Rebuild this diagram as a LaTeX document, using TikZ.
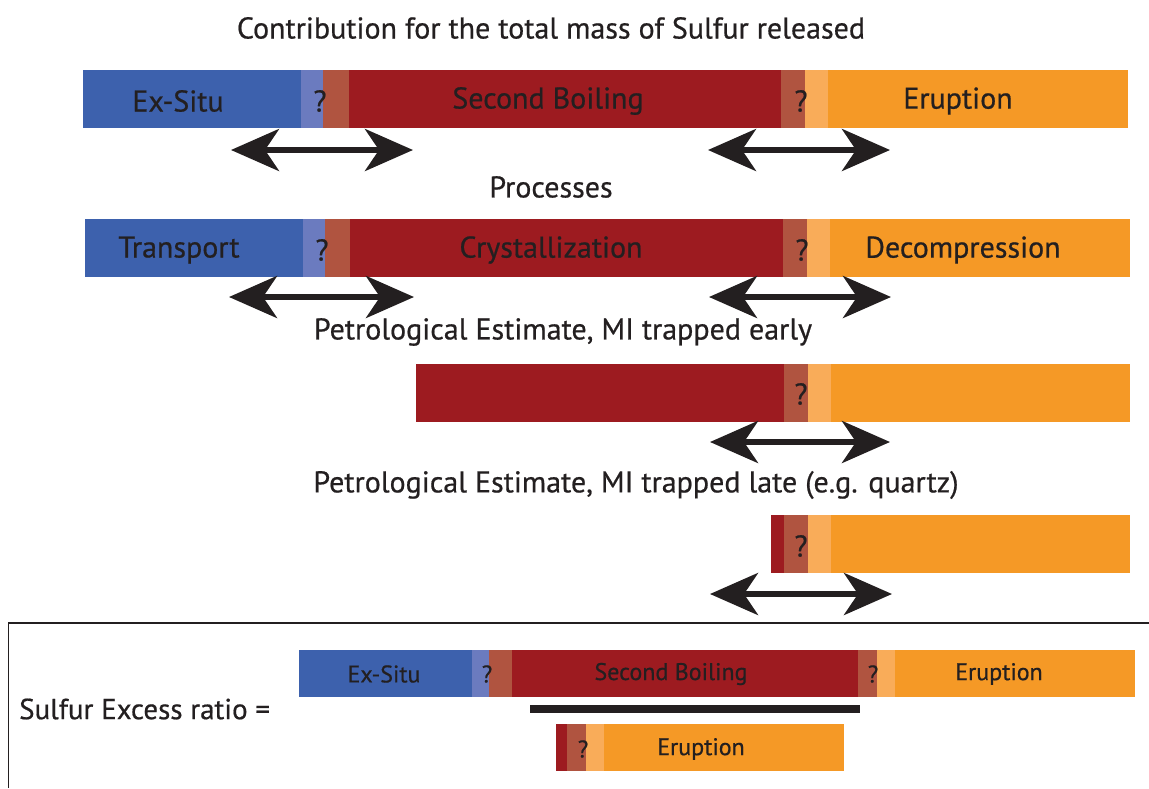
\documentclass[tikz,border=0pt]{standalone}
\usepackage{fontspec}
\setmainfont{PT Sans}[FakeBold=0.6]
\usetikzlibrary{positioning,arrows.meta}
\definecolor{ink}{HTML}{231F20}
\definecolor{exsitu}{HTML}{3D61AD}
\definecolor{exsituq}{HTML}{6B7BBF}
\definecolor{boilq}{HTML}{B05440}
\definecolor{boil}{HTML}{9D1B20}
\definecolor{erupq}{HTML}{F9AC59}
\definecolor{erup}{HTML}{F59926}

\begin{document}
\begin{tikzpicture}[x=1pt,y=-1pt]
\tikzstyle{seg}=[rectangle, inner sep=0pt, outer sep=0pt, minimum height=58pt]
\tikzstyle{segs}=[seg, minimum height=47pt]
\tikzstyle{lbl}=[text=ink, inner sep=0pt, font=\fontsize{30}{36}\selectfont]
\tikzstyle{lbls}=[lbl, font=\fontsize{24}{29}\selectfont]
\tikzstyle{head}=[text=ink, inner sep=0pt, font=\fontsize{30}{36}\selectfont]
\tikzstyle{dbl}=[draw=ink, line width=6pt,
	{Stealth[length=48pt,width=42pt,inset=14pt]}-{Stealth[length=48pt,width=42pt,inset=14pt]}]
\useasboundingbox (0,0) rectangle (1149,788);

% headings
\node[head] (title) at (551,28) {Contribution for the total mass of Sulfur released};
\node[head] (proc) at (551,187) {Processes};
\node[head] (early) at (563,332) {Petrological Estimate, MI trapped early};
\node[head] (late) at (636,485) {Petrological Estimate, MI trapped late (e.g. quartz)};

% total mass
\node[seg, anchor=north west, fill=exsitu, minimum width=218pt] (t1) at (83,70) {};
\node[seg, right=0pt of t1, fill=exsituq, minimum width=22pt] (t2) {};
\node[seg, right=0pt of t2, fill=boilq, minimum width=26pt] (t3) {};
\node[seg, right=0pt of t3, fill=boil, minimum width=432pt] (t4) {};
\node[seg, right=0pt of t4, fill=boilq, minimum width=24pt] (t5) {};
\node[seg, right=0pt of t5, fill=erupq, minimum width=23pt] (t6) {};
\node[seg, right=0pt of t6, fill=erup, minimum width=300pt] (t7) {};
\node[lbl] (tl1) at (178,101) {Ex-Situ};
\node[lbl] (tl2) at (320,101) {?};
\node[lbl] (tl3) at (548,101) {Second Boiling};
\node[lbl] (tl4) at (801,101) {?};
\node[lbl] (tl5) at (958,101) {Eruption};

% processes
\node[seg, anchor=north west, fill=exsitu, minimum width=218pt] (p1) at (85,219) {};
\node[seg, right=0pt of p1, fill=exsituq, minimum width=22pt] (p2) {};
\node[seg, right=0pt of p2, fill=boilq, minimum width=25pt] (p3) {};
\node[seg, right=0pt of p3, fill=boil, minimum width=433pt] (p4) {};
\node[seg, right=0pt of p4, fill=boilq, minimum width=24pt] (p5) {};
\node[seg, right=0pt of p5, fill=erupq, minimum width=23pt] (p6) {};
\node[seg, right=0pt of p6, fill=erup, minimum width=300pt] (p7) {};
\node[lbl] (pl1) at (179,250) {Transport};
\node[lbl] (pl2) at (322,250) {?};
\node[lbl] (pl3) at (551,250) {Crystallization};
\node[lbl] (pl4) at (802,250) {?};
\node[lbl] (pl5) at (963,250) {Decompression};

% early MI
\node[seg, anchor=north west, fill=boil, minimum width=368pt] (e1) at (416,364) {};
\node[seg, right=0pt of e1, fill=boilq, minimum width=24pt] (e2) {};
\node[seg, right=0pt of e2, fill=erupq, minimum width=23pt] (e3) {};
\node[seg, right=0pt of e3, fill=erup, minimum width=299pt] (e4) {};
\node[lbl] (el1) at (801,394) {?};

% late MI
\node[seg, anchor=north west, fill=boil, minimum width=13pt] (m1) at (771,515) {};
\node[seg, right=0pt of m1, fill=boilq, minimum width=24pt] (m2) {};
\node[seg, right=0pt of m2, fill=erupq, minimum width=23pt] (m3) {};
\node[seg, right=0pt of m3, fill=erup, minimum width=299pt] (m4) {};
\node[lbl] (ml1) at (801,546) {?};

% uncertainty arrows
\coordinate (a1) at (231,150); \coordinate (b1) at (413,150);
\coordinate (c1) at (708,150); \coordinate (d1) at (890,150);
\coordinate (a2) at (229,297); \coordinate (b2) at (414,297);
\coordinate (c2) at (709,297); \coordinate (d2) at (891,297);
\coordinate (c3) at (710,442); \coordinate (d3) at (890,442);
\coordinate (c4) at (710,594); \coordinate (d4) at (892,594);
\draw[dbl] (a1) -- (b1);
\draw[dbl] (c1) -- (d1);
\draw[dbl] (a2) -- (b2);
\draw[dbl] (c2) -- (d2);
\draw[dbl] (c3) -- (d3);
\draw[dbl] (c4) -- (d4);

% ratio box
\draw[ink, line width=1.6pt] (8.5,788) -- (8.5,623) -- (1149,623);
\node[head, anchor=west, font=\fontsize{29}{35}\selectfont] (ratio) at (19,709) {Sulfur Excess ratio =};

\node[segs, anchor=north west, fill=exsitu, minimum width=173pt] (n1) at (299,650) {};
\node[segs, right=0pt of n1, fill=exsituq, minimum width=17pt] (n2) {};
\node[segs, right=0pt of n2, fill=boilq, minimum width=23pt] (n3) {};
\node[segs, right=0pt of n3, fill=boil, minimum width=346pt] (n4) {};
\node[segs, right=0pt of n4, fill=boilq, minimum width=19pt] (n5) {};
\node[segs, right=0pt of n5, fill=erupq, minimum width=18pt] (n6) {};
\node[segs, right=0pt of n6, fill=erup, minimum width=240pt] (n7) {};
\node[lbls] (nl1) at (384,674) {Ex-Situ};
\node[lbls] (nl2) at (487,674) {?};
\node[lbls] (nl3) at (671,674) {Second Boiling};
\node[lbls] (nl4) at (873,674) {?};
\node[lbls] (nl5) at (999,674) {Eruption};

\coordinate (fl) at (530,709); \coordinate (fr) at (860,709);
\draw[ink, line width=8pt] (fl) -- (fr);

\node[segs, anchor=north west, fill=boil, minimum width=11pt] (d1) at (556,724) {};
\node[segs, right=0pt of d1, fill=boilq, minimum width=19pt] (d2) {};
\node[segs, right=0pt of d2, fill=erupq, minimum width=18pt] (d3) {};
\node[segs, right=0pt of d3, fill=erup, minimum width=240pt] (d4) {};
\node[lbls] (dl1) at (583,749) {?};
\node[lbls] (dl2) at (701,749) {Eruption};
\end{tikzpicture}
\end{document}
